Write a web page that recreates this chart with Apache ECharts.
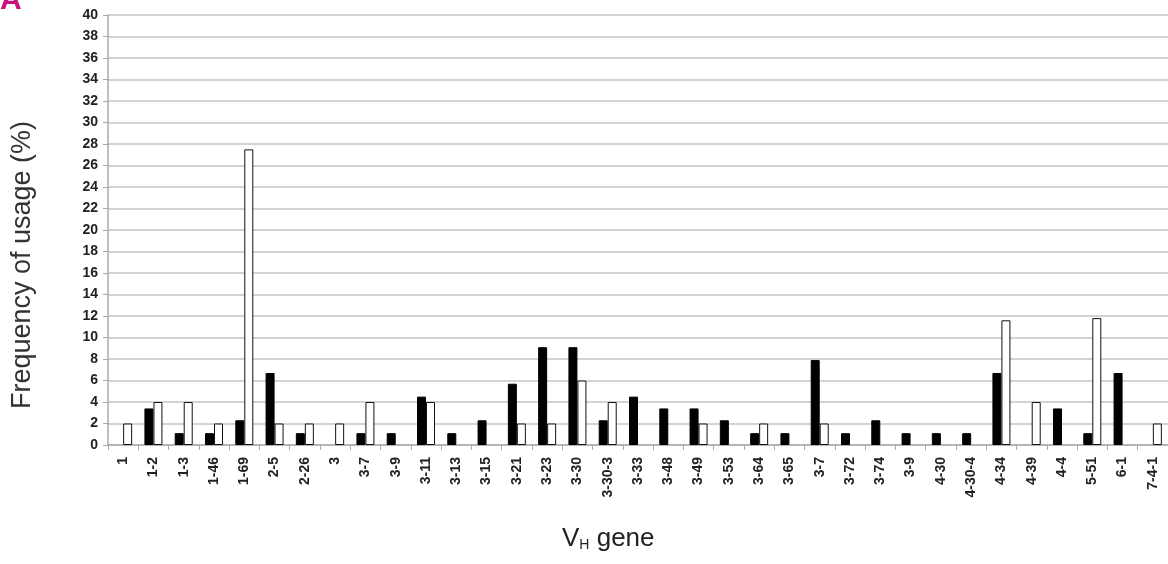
<!DOCTYPE html>
<html>
<head>
<meta charset="utf-8">
<script src="https://cdn.jsdelivr.net/npm/echarts@6/dist/echarts.min.js"></script>
<style>
html,body{margin:0;padding:0;background:#fff;}
#chart{width:1168px;height:564px;}
</style>
</head>
<body>
<div id="chart"></div>
<script>
const genes = ["1","1-2","1-3","1-46","1-69","2-5","2-26","3","3-7","3-9","3-11","3-13","3-15","3-21","3-23","3-30","3-30-3","3-33","3-48","3-49","3-53","3-64","3-65","3-7","3-72","3-74","3-9","4-30","4-30-4","4-34","4-39","4-4","5-51","6-1","7-4-1"];
// null = no bar drawn for that gene
const blackSeries = [null,3.4,1.1,1.1,2.3,6.7,1.1,null,1.1,1.1,4.5,1.1,2.3,5.7,9.1,9.1,2.3,4.5,3.4,3.4,2.3,1.1,1.1,7.9,1.1,2.3,1.1,1.1,1.1,6.7,null,3.4,1.1,6.7,null];
const whiteSeries = [2,4,4,2,27.5,2,2,2,4,null,4,null,null,2,2,6,4,null,null,2,null,2,null,2,null,null,null,null,null,11.6,4,null,11.8,null,2];
const yTicks = {min:0, max:40, interval:2};
const yTitle = 'Frequency of usage (%)';

const chart = echarts.init(document.getElementById('chart'));
chart.setOption({
  animation:false,
  backgroundColor:'#fff',
  grid:{left:108,right:0,top:15,bottom:119,containLabel:false},
  graphic:[
    {type:'text',left:0,top:-14,style:{text:'A',fill:'#c8107e',font:'bold 30px "Liberation Sans", Arial, sans-serif'}},
    {type:'text',x:23,y:265,rotation:Math.PI/2,style:{
      text:yTitle,align:'center',verticalAlign:'middle',
      fill:'#333',font:'27px "Liberation Sans", Arial, sans-serif'}},
    {type:'text',left:562,top:526,style:{
      text:'{v|V}{h|H}{v| gene}',
      rich:{
        v:{fontSize:26,fontFamily:'"Liberation Sans",Arial,sans-serif',fill:'#222',verticalAlign:'bottom'},
        h:{fontSize:14,fontFamily:'"Liberation Sans",Arial,sans-serif',fill:'#222',verticalAlign:'bottom'}
      }}}
  ],
  xAxis:{
    type:'category',
    data:genes,
    axisLine:{show:true,lineStyle:{color:'#aaa',width:1.5}},
    axisTick:{show:true,length:5,alignWithLabel:false,lineStyle:{color:'#aaa'}},
    axisLabel:{interval:0,rotate:90,fontSize:14,fontWeight:'bold',color:'#222',fontFamily:'"Liberation Sans",Arial,sans-serif',margin:12}
  },
  yAxis:{
    type:'value',
    min:yTicks.min,max:yTicks.max,interval:yTicks.interval,
    axisLine:{show:true,lineStyle:{color:'#aaa',width:1.5}},
    axisTick:{show:true,length:5,lineStyle:{color:'#aaa'}},
    axisLabel:{fontSize:14,fontWeight:'bold',color:'#222',fontFamily:'"Liberation Sans",Arial,sans-serif',margin:10},
    splitLine:{show:true,lineStyle:{color:'#c4c4c4',width:1.5}}
  },
  series:[
    {type:'bar',data:blackSeries,barWidth:9,barGap:'0%',itemStyle:{color:'#000',borderColor:'#000',borderWidth:1}},
    {type:'bar',data:whiteSeries,barWidth:9,itemStyle:{color:'#fff',borderColor:'#111',borderWidth:1}}
  ]
});
</script>
</body>
</html>
